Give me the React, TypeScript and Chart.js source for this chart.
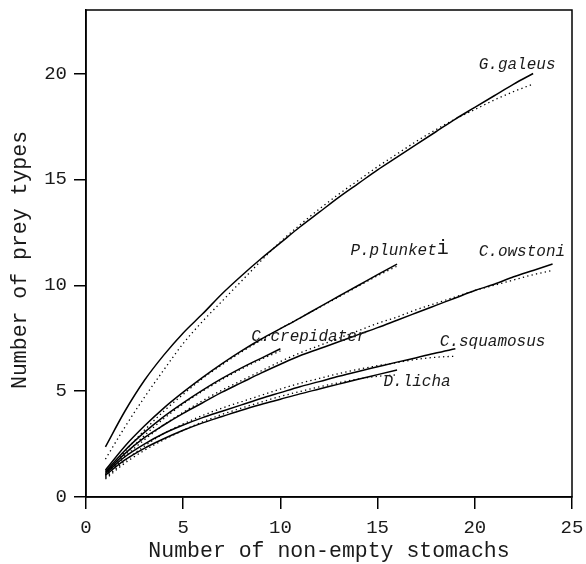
import React, { useEffect, useRef } from 'react';
import { Chart, registerables } from 'chart.js';

Chart.register(...registerables);

// Species (categories)
const species = ['G.galeus', 'P.plunketi', 'C.owstoni', 'C.crepidater', 'C.squamosus', 'D.licha'];

// Observed cumulative curves (solid), index i -> i+1 non-empty stomachs
const galeusObs = [2.37, 4.05, 5.5, 6.7, 7.75, 8.65, 9.6, 10.45, 11.25, 12.0, 12.75, 13.45, 14.15, 14.8, 15.45, 16.05, 16.65, 17.25, 17.85, 18.4, 18.95, 19.5, 20.0];
const plunketiObs = [1.27, 2.4, 3.35, 4.2, 4.95, 5.65, 6.3, 6.9, 7.45, 7.95, 8.45, 8.97, 9.48, 9.99, 10.5, 11.0];
const owstoniObs = [1.15, 2.05, 2.8, 3.4, 3.95, 4.45, 4.95, 5.4, 5.85, 6.27, 6.67, 7.0, 7.33, 7.67, 8.0, 8.35, 8.7, 9.05, 9.4, 9.75, 10.05, 10.4, 10.7, 11.0];
const crepidaterObs = [1.2, 2.2, 3.05, 3.8, 4.45, 5.05, 5.6, 6.1, 6.55, 7.0];
const squamosusObs = [1.1, 1.9, 2.5, 3.0, 3.4, 3.75, 4.05, 4.35, 4.65, 4.93, 5.21, 5.45, 5.7, 5.93, 6.15, 6.37, 6.58, 6.8, 7.0];
const lichaObs = [1.03, 1.75, 2.3, 2.75, 3.15, 3.5, 3.8, 4.1, 4.37, 4.62, 4.87, 5.1, 5.33, 5.56, 5.78, 6.0];

// Fitted curves (dotted)
const galeusFit = [1.79, 3.3, 4.7, 6.0, 7.25, 8.3, 9.25, 10.2, 11.15, 12.05, 12.85, 13.6, 14.3, 14.95, 15.6, 16.2, 16.8, 17.35, 17.85, 18.3, 18.75, 19.15, 19.5];
const plunketiFit = [1.05, 2.15, 3.15, 4.05, 4.85, 5.6, 6.25, 6.85, 7.4, 7.95, 8.45, 8.95, 9.45, 9.95, 10.45, 10.9];
const owstoniFit = [0.95, 1.9, 2.7, 3.4, 4.0, 4.55, 5.05, 5.5, 5.95, 6.4, 6.8, 7.15, 7.5, 7.85, 8.2, 8.5, 8.85, 9.15, 9.45, 9.75, 10.0, 10.25, 10.5, 10.7];
const crepidaterFit = [1.0, 2.0, 2.9, 3.7, 4.4, 5.0, 5.55, 6.05, 6.5, 6.9];
const squamosusFit = [0.9, 1.7, 2.4, 3.0, 3.45, 3.85, 4.2, 4.5, 4.8, 5.1, 5.37, 5.6, 5.83, 6.03, 6.2, 6.35, 6.5, 6.6, 6.65];
const lichaFit = [0.85, 1.6, 2.2, 2.7, 3.15, 3.55, 3.9, 4.2, 4.48, 4.75, 4.98, 5.2, 5.4, 5.57, 5.7, 5.77];

const observed = [galeusObs, plunketiObs, owstoniObs, crepidaterObs, squamosusObs, lichaObs];
const fitted = [galeusFit, plunketiFit, owstoniFit, crepidaterFit, squamosusFit, lichaFit];

// Label anchor positions in data units (left edge, vertical middle)
const labelX = [20.2, 13.6, 20.2, 8.5, 18.2, 15.3];
const labelY = [20.4, 11.65, 11.6, 7.57, 7.35, 5.45];

const xMin = 0, xMax = 25, xStep = 5;
const yMin = 0, yMax = 23, yStep = 5;

const FONT = "'Liberation Mono', 'Courier New', monospace";
const TEXT = '#1a1a1a';

const toPoints = (vals: number[]) => vals.map((v, i) => ({ x: i + 1, y: v }));

const framePlugin = {
  id: 'frame',
  afterDraw(chart: any) {
    const { ctx, chartArea: a } = chart;
    ctx.save();
    ctx.strokeStyle = '#000';
    ctx.lineWidth = 1.5;
    ctx.strokeRect(a.left, a.top, a.right - a.left, a.bottom - a.top);
    ctx.restore();
  },
};

const labelPlugin = {
  id: 'speciesLabels',
  afterDatasetsDraw(chart: any) {
    const { ctx, scales } = chart;
    ctx.save();
    ctx.fillStyle = TEXT;
    ctx.textBaseline = 'middle';
    ctx.textAlign = 'left';
    species.forEach((name, i) => {
      const px = scales.x.getPixelForValue(labelX[i]);
      const py = scales.y.getPixelForValue(labelY[i]);
      ctx.font = `italic 16px ${FONT}`;
      if (name === 'P.plunketi') {
        const head = name.slice(0, -1);
        ctx.fillText(head, px, py);
        const w = ctx.measureText(head).width;
        ctx.font = `20px ${FONT}`;
        ctx.fillText(name.slice(-1), px + w, py - 2);
      } else {
        ctx.fillText(name, px, py);
      }
    });
    ctx.restore();
  },
};

export default function App() {
  const ref = useRef<HTMLCanvasElement>(null);
  useEffect(() => {
    if (!ref.current) return;
    const datasets: any[] = [];
    species.forEach((name, i) => {
      datasets.push({
        label: name + ' observed',
        data: toPoints(observed[i]),
        borderColor: '#000',
        borderWidth: 1.5,
        pointRadius: 0,
        fill: false,
        cubicInterpolationMode: 'monotone',
      });
      datasets.push({
        label: name + ' fitted',
        data: toPoints(fitted[i]),
        borderColor: '#000',
        borderWidth: 1.3,
        borderDash: [1.3, 3.2],
        pointRadius: 0,
        fill: false,
        cubicInterpolationMode: 'monotone',
      });
    });
    const chart = new Chart(ref.current, {
      type: 'line',
      data: { datasets },
      plugins: [framePlugin, labelPlugin],
      options: {
        animation: false,
        responsive: false,
        maintainAspectRatio: false,
        layout: { padding: { top: 10, right: 14, left: 0, bottom: 0 } },
        plugins: { legend: { display: false }, tooltip: { enabled: false } },
        scales: {
          x: {
            type: 'linear',
            min: xMin,
            max: xMax,
            afterFit: (s: any) => { s.height = 67; s.paddingLeft = 0; s.paddingRight = 0; },
            grid: { drawOnChartArea: false, drawTicks: true, tickLength: 12, color: '#000', lineWidth: 1.5 },
            border: { display: true, color: '#000', width: 1.5 },
            ticks: { stepSize: xStep, includeBounds: false, padding: 8, color: TEXT, font: { family: FONT, size: 19 }, maxRotation: 0 },
            title: { display: true, text: 'Number of non-empty stomachs', color: TEXT, font: { family: FONT, size: 21.5 }, padding: { top: 0, bottom: 0 } },
          },
          y: {
            type: 'linear',
            min: yMin,
            max: yMax,
            afterFit: (s: any) => { s.width = 86; s.paddingTop = 0; s.paddingBottom = 0; },
            grid: { drawOnChartArea: false, drawTicks: true, tickLength: 12, color: '#000', lineWidth: 1.5 },
            border: { display: true, color: '#000', width: 1.5 },
            ticks: { stepSize: yStep, includeBounds: false, padding: 7, color: TEXT, font: { family: FONT, size: 19 } },
            title: { display: true, text: 'Number of prey types ', color: TEXT, font: { family: FONT, size: 21.5 }, padding: { top: 7, bottom: 0 } },
          },
        },
      },
    });
    return () => chart.destroy();
  }, []);
  return (
    <div style={{ position: 'fixed', left: 0, top: 0, width: 586, height: 564, background: '#fff' }}>
      <canvas ref={ref} width={586} height={564} style={{ display: 'block' }} />
    </div>
  );
}
